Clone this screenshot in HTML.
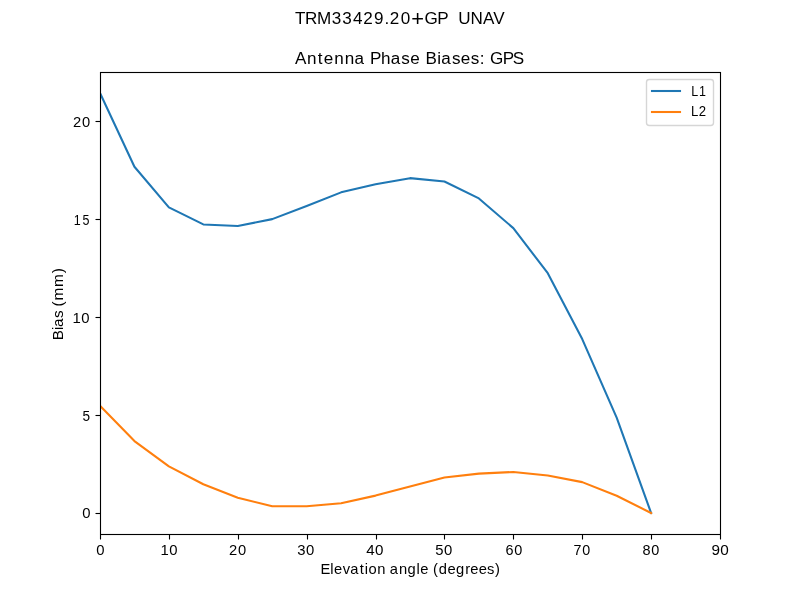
<!DOCTYPE html>
<html><head><meta charset="utf-8"><title>TRM33429.20+GP UNAV - Antenna Phase Biases: GPS</title><style>
html,body{margin:0;padding:0;background:#fff;width:800px;height:600px;overflow:hidden}
svg{display:block;will-change:transform}
text{font-family:"Liberation Sans", sans-serif;fill:#000;white-space:pre}
</style></head><body>
<svg width="800" height="600" viewBox="0 0 800 600">
<defs><clipPath id="clip"><rect x="100" y="72" width="621" height="463"/></clipPath></defs>
<rect x="0" y="0" width="800" height="600" fill="#fff"/>
<text transform="translate(295.00,24.00) scale(1.000,1)" font-size="17.08" xml:space="preserve"><tspan x="-0.07 10.12 21.89 36.76 47.36 57.94 68.33 79.10 89.48 94.83 105.66" y="0">TRM33429.20</tspan><tspan x="116.32" y="2.05" font-size="21.87">+</tspan><tspan x="129.49 142.21 156.81 162.11 163.17 175.50 187.91 198.25" y="0">GP  UNAV</tspan></text>
<text transform="translate(295.10,64.00) scale(1.000,1)" x="-0.13 11.84 22.69 28.78 39.19 49.75 59.49 74.13 74.87 85.85 95.61 106.27 115.18 129.19 130.32 142.18 146.12 156.79 165.69 175.72 184.66 194.00 194.94 207.66 217.78" y="0" font-size="17.08" xml:space="preserve">Antenna Phase Biases: GPS</text>
<polyline points="100.00,93.00 134.44,166.76 168.89,207.35 203.33,224.44 237.78,226.03 272.22,219.14 306.67,206.04 341.11,192.35 375.56,184.15 410.00,178.16 444.44,181.46 478.89,198.44 513.33,228.12 547.78,273.22 582.22,339.09 616.67,417.55 651.11,513.00" fill="none" stroke="#1f77b4" stroke-width="2.08" stroke-linejoin="round" stroke-linecap="square" clip-path="url(#clip)"/>
<polyline points="100.00,405.64 134.44,441.04 168.89,466.42 203.33,484.22 237.78,497.71 272.22,506.21 306.67,506.21 341.11,503.21 375.56,495.61 410.00,486.41 444.44,477.52 478.89,473.62 513.33,471.92 547.78,475.52 582.22,482.12 616.67,495.71 651.11,513.00" fill="none" stroke="#ff7f0e" stroke-width="2.08" stroke-linejoin="round" stroke-linecap="square" clip-path="url(#clip)"/>
<rect x="100.5" y="72.5" width="620" height="462" fill="none" stroke="#000" stroke-width="1.11"/>
<line x1="100.50" y1="534.5" x2="100.50" y2="539.5" stroke="#000" stroke-width="1.11"/>
<text transform="translate(97.00,555.00) scale(1.050,1)" x="-0.61" y="0" font-size="14.17" xml:space="preserve">0</text>
<line x1="169.50" y1="534.5" x2="169.50" y2="539.5" stroke="#000" stroke-width="1.11"/>
<text transform="translate(161.75,555.00) scale(1.050,1)" x="-1.26 7.23" y="0" font-size="14.17" xml:space="preserve">10</text>
<line x1="238.50" y1="534.5" x2="238.50" y2="539.5" stroke="#000" stroke-width="1.11"/>
<text transform="translate(230.00,555.00) scale(1.040,1)" x="-0.85 7.82" y="0" font-size="14.17" xml:space="preserve">20</text>
<line x1="307.50" y1="534.5" x2="307.50" y2="539.5" stroke="#000" stroke-width="1.11"/>
<text transform="translate(298.00,555.00) scale(1.050,1)" x="-0.72 7.67" y="0" font-size="14.17" xml:space="preserve">30</text>
<line x1="376.50" y1="534.5" x2="376.50" y2="539.5" stroke="#000" stroke-width="1.11"/>
<text transform="translate(366.75,555.00) scale(1.050,1)" x="-0.46 7.96" y="0" font-size="14.44" xml:space="preserve">40</text>
<line x1="444.50" y1="534.5" x2="444.50" y2="539.5" stroke="#000" stroke-width="1.11"/>
<text transform="translate(436.00,555.00) scale(1.050,1)" x="-0.81 7.66" y="0" font-size="14.17" xml:space="preserve">50</text>
<line x1="513.50" y1="534.5" x2="513.50" y2="539.5" stroke="#000" stroke-width="1.11"/>
<text transform="translate(506.00,555.00) scale(1.040,1)" x="-0.55 7.95" y="0" font-size="13.89" xml:space="preserve">60</text>
<line x1="582.50" y1="534.5" x2="582.50" y2="539.5" stroke="#000" stroke-width="1.11"/>
<text transform="translate(574.25,555.00) scale(0.980,1)" x="-0.74 8.30" y="0" font-size="14.58" xml:space="preserve">70</text>
<line x1="651.50" y1="534.5" x2="651.50" y2="539.5" stroke="#000" stroke-width="1.11"/>
<text transform="translate(643.00,555.00) scale(1.040,1)" x="-0.52 7.97" y="0" font-size="13.89" xml:space="preserve">80</text>
<line x1="720.50" y1="534.5" x2="720.50" y2="539.5" stroke="#000" stroke-width="1.11"/>
<text transform="translate(712.25,555.00) scale(1.050,1)" x="-0.73 7.73" y="0" font-size="14.58" xml:space="preserve">90</text>
<line x1="95.5" y1="513.50" x2="100.5" y2="513.50" stroke="#000" stroke-width="1.11"/>
<text transform="translate(83.00,518.00) scale(1.050,1)" x="-0.61" y="0" font-size="14.17" xml:space="preserve">0</text>
<line x1="95.5" y1="415.50" x2="100.5" y2="415.50" stroke="#000" stroke-width="1.11"/>
<text transform="translate(83.00,421.00) scale(0.960,1)" x="-0.51" y="0" font-size="14.17" xml:space="preserve">5</text>
<line x1="95.5" y1="317.50" x2="100.5" y2="317.50" stroke="#000" stroke-width="1.11"/>
<text transform="translate(73.75,323.00) scale(1.050,1)" x="-1.26 7.23" y="0" font-size="14.17" xml:space="preserve">10</text>
<line x1="95.5" y1="219.50" x2="100.5" y2="219.50" stroke="#000" stroke-width="1.11"/>
<text transform="translate(74.25,225.00) scale(0.900,1)" x="-0.70 9.10" y="0" font-size="13.89" xml:space="preserve">15</text>
<line x1="95.5" y1="121.50" x2="100.5" y2="121.50" stroke="#000" stroke-width="1.11"/>
<text transform="translate(74.00,127.00) scale(1.040,1)" x="-0.85 7.82" y="0" font-size="14.17" xml:space="preserve">20</text>
<text transform="translate(322.50,574.00) scale(1.060,1)" x="-1.83 7.27 10.83 19.10 26.10 35.08 39.90 43.40 51.59 62.85 63.40 72.09 80.29 88.67 92.23 103.37 104.15 109.59 117.88 125.97 134.70 139.35 147.41 155.31 162.70" y="0" font-size="13.89" xml:space="preserve">Elevation angle (degrees)</text>
<text transform="translate(63.00,338.50) rotate(-90) scale(1.100,1)" x="-1.57 7.64 10.45 18.58 28.40 29.06 34.58 46.88 59.29" y="0" font-size="13.89" xml:space="preserve">Bias (mm)</text>
<rect x="646.5" y="79.5" width="67" height="46" rx="2.8" ry="2.8" fill="#fff" fill-opacity="0.8" stroke="#d6d6d6" stroke-width="1.39"/>
<line x1="650.95" y1="91" x2="681.05" y2="91" stroke="#1f77b4" stroke-width="2.08"/>
<line x1="650.95" y1="112" x2="681.05" y2="112" stroke="#ff7f0e" stroke-width="2.08"/>
<text transform="translate(691.75,96.00) scale(0.900,1)" x="-0.70 8.08" y="0" font-size="13.89" xml:space="preserve">L1</text>
<text transform="translate(691.75,116.00) scale(0.950,1)" x="-0.89 7.30" y="0" font-size="13.89" xml:space="preserve">L2</text>
</svg></body></html>
